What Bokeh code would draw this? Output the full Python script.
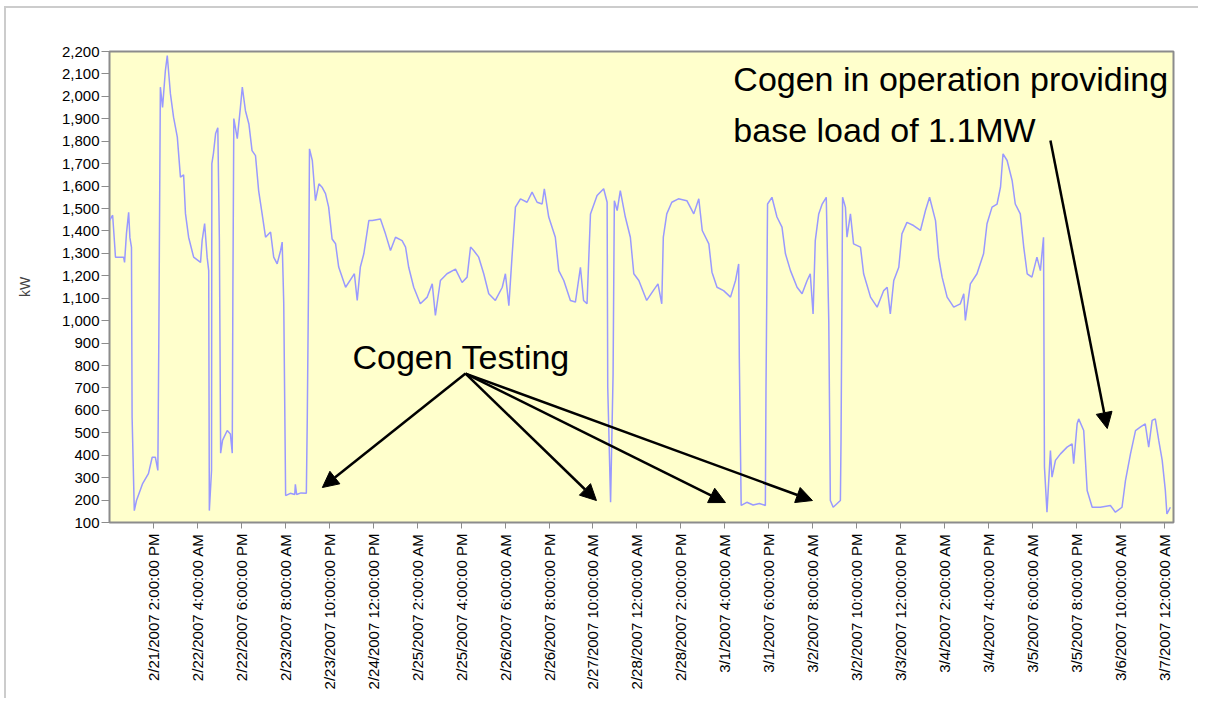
import math
import pandas as pd
from bokeh.plotting import figure
from bokeh.models import (FixedTicker, NumeralTickFormatter, Range1d, Label,
                          Arrow, NormalHead)
from bokeh.embed import file_html
from bokeh.resources import INLINE

# ---------------- data ----------------
start_time = "2/21/2007 12:00:00 AM"

# hours after start_time
hours = [0.0, 1.0, 1.7, 1.9, 4.5, 4.8, 5.4, 6.1, 6.5, 7.0, 7.2, 7.9, 8.6, 10.5,
         12.4, 13.6, 14.6, 15.4, 15.7, 16.2, 16.9, 17.8, 18.4, 19.4, 20.4, 21.6,
         22.6, 23.6, 24.2, 25.2, 26.8, 29.0, 29.5, 30.3, 31.1, 31.6, 31.8, 32.5,
         32.6, 33.1, 33.8, 34.5, 35.0, 35.4, 36.0, 37.5, 38.5, 39.1, 39.3, 39.6,
         40.7, 41.7, 42.3, 43.3, 44.4, 45.4, 46.5, 47.5, 48.6, 49.7, 51.3, 52.3,
         53.4, 54.5, 55.0, 55.5, 56.1, 57.6, 59.0, 59.2, 59.6, 61.0, 62.7, 63.0,
         63.5, 63.7, 64.6, 65.6, 66.7, 67.7, 68.8, 69.8, 70.9, 72.0, 73.0, 75.2,
         77.3, 78.0, 78.9, 79.9, 81.0, 82.6, 83.7, 86.3, 87.9, 89.5, 91.1, 93.2,
         94.3, 95.3, 96.9, 99.0, 101.2, 102.8, 103.8, 105.4, 107.5, 110.2, 112.3,
         113.9, 115.0, 116.0, 117.6, 119.2, 120.8, 122.9, 125.1, 126.1, 127.2,
         128.2, 129.3, 130.9, 133.0, 134.6, 136.2, 137.8, 138.5, 139.9, 142.0,
         143.1, 144.7, 146.8, 148.4, 150.0, 151.0, 152.1, 153.2, 155.3, 157.4,
         158.5, 158.7, 159.6, 160.4, 160.8, 161.7, 162.7, 164.3, 165.9, 167.0,
         168.6, 171.1, 173.2, 174.7, 175.9, 176.4, 177.5, 179.1, 181.2, 183.9,
         186.1, 187.7, 188.8, 190.9, 191.9, 193.5, 195.6, 197.8, 199.4, 200.4,
         200.6, 201.2, 203.0, 205.0, 207.0, 208.9, 209.1, 209.6, 211.0, 212.6,
         214.2, 215.3, 216.9, 219.0, 220.6, 222.2, 223.2, 224.1, 224.8, 225.9,
         227.0, 228.3, 229.1, 229.6, 230.5, 232.8, 233.0, 233.5, 234.4, 234.9,
         236.0, 237.0, 239.2, 240.2, 242.4, 244.5, 246.6, 247.7, 248.7, 249.8,
         251.4, 252.4, 254.0, 256.1, 258.3, 259.9, 261.2, 263.1, 264.1, 265.2,
         266.8, 268.9, 271.0, 272.1, 272.6, 274.2, 276.3, 278.4, 279.5, 281.1,
         282.7, 283.8, 284.6, 285.9, 287.5, 288.5, 290.1, 291.2, 292.3, 293.8,
         295.4, 296.5, 297.5, 297.8, 298.6, 299.7, 300.2, 301.3, 302.9, 305.0,
         306.6, 307.1, 308.2, 308.7, 310.3, 311.4, 313.0, 315.6, 318.8, 320.4,
         322.5, 323.6, 325.2, 326.8, 328.3, 329.9, 331.0, 332.1, 333.1, 334.2,
         335.3, 336.3, 336.8, 337.9]

kw = [1446, 1470, 1327, 1283, 1283, 1260, 1388, 1483, 1370, 1327, 569, 153, 198, 272,
      318, 391, 391, 332, 898, 2041, 1951, 2115, 2182, 2012, 1907, 1818,
      1640, 1650, 1477, 1372, 1283, 1260, 1357, 1433, 1283, 1223, 153, 332,
      1700, 1745, 1834, 1860, 1357, 409, 466, 510, 495, 409, 1134, 1901,
      1811, 1951, 2041, 1936, 1877, 1758, 1736, 1580, 1477, 1372, 1395, 1283,
      1253, 1313, 1350, 1076, 220, 230, 225, 270, 225, 232, 230, 569,
      1320, 1766, 1714, 1535, 1610, 1595, 1566, 1506, 1364, 1343, 1239, 1149,
      1194, 1209, 1090, 1239, 1298, 1446, 1446, 1453, 1387, 1313, 1372, 1357,
      1328, 1238, 1149, 1075, 1105, 1164, 1023, 1179, 1209, 1230, 1170,
      1194, 1328, 1313, 1283, 1209, 1120, 1090, 1149, 1209, 1067,
      1283, 1506, 1543, 1528, 1573, 1528, 1520, 1588, 1462, 1372,
      1223, 1179, 1090, 1083, 1238, 1090, 1075, 1476, 1558, 1588,
      1528, 703, 190, 762, 1535, 1491, 1580, 1462, 1372, 1209,
      1179, 1090, 1134, 1164, 1075, 1372, 1476, 1528, 1543, 1535,
      1476, 1543, 1402, 1342, 1216, 1149, 1134, 1105, 1179, 1253,
      837, 176, 190, 178, 185, 176, 688, 1520, 1550, 1462,
      1417, 1298, 1223, 1149, 1120, 1179, 1209, 1030, 1357, 1476,
      1520, 1550, 997, 198, 168, 198, 466, 1550, 1506, 1372,
      1476, 1342, 1328, 1209, 1105, 1060, 1134, 1149, 1030, 1179,
      1238, 1387, 1438, 1424, 1402, 1491, 1550, 1446, 1283, 1194,
      1105, 1060, 1075, 1120, 1001, 1164, 1209, 1298, 1432, 1506,
      1520, 1595, 1744, 1714, 1625, 1520, 1476, 1328, 1209, 1194,
      1283, 1223, 1372, 347, 146, 421, 302, 377, 406, 436,
      451, 362, 540, 562, 510, 243, 168, 168, 176, 146,
      168, 287, 406, 510, 525, 540, 436, 555, 562, 466,
      377, 243, 138, 168]

tick_labels = ["2/21/2007 2:00:00 PM", "2/22/2007 4:00:00 AM", "2/22/2007 6:00:00 PM",
               "2/23/2007 8:00:00 AM", "2/23/2007 10:00:00 PM", "2/24/2007 12:00:00 PM",
               "2/25/2007 2:00:00 AM", "2/25/2007 4:00:00 PM", "2/26/2007 6:00:00 AM",
               "2/26/2007 8:00:00 PM", "2/27/2007 10:00:00 AM", "2/28/2007 12:00:00 AM",
               "2/28/2007 2:00:00 PM", "3/1/2007 4:00:00 AM", "3/1/2007 6:00:00 PM",
               "3/2/2007 8:00:00 AM", "3/2/2007 10:00:00 PM", "3/3/2007 12:00:00 PM",
               "3/4/2007 2:00:00 AM", "3/4/2007 4:00:00 PM", "3/5/2007 6:00:00 AM",
               "3/5/2007 8:00:00 PM", "3/6/2007 10:00:00 AM", "3/7/2007 12:00:00 AM"]

y_ticks = list(range(100, 2201, 100))

# ---------------- chart ----------------
FMT = "%m/%d/%Y %I:%M:%S %p"
t0 = pd.to_datetime(start_time, format=FMT)
tick_hours = [int(round((pd.to_datetime(s, format=FMT) - t0) / pd.Timedelta(hours=1)))
              for s in tick_labels]

FONT = "Liberation Sans"

p = figure(width=1194, height=692, output_backend="svg", toolbar_location=None,
           x_range=Range1d(0, 338.9), y_range=Range1d(100, 2200),
           min_border_left=103, min_border_top=43, min_border_right=27,
           min_border_bottom=178,
           styles={"border-top": "2px solid #cccccc",
                   "border-left": "2px solid #cccccc",
                   "margin-left": "4px", "margin-top": "6px"})

p.background_fill_color = "#ffffcc"
p.border_fill_color = "white"
p.outline_line_color = "#8c8c8c"
p.outline_line_width = 2
p.grid.visible = False

p.line(hours, kw, line_color="#9999ff", line_width=1.5)

# y axis
ya = p.yaxis[0]
ya.ticker = FixedTicker(ticks=y_ticks)
ya.formatter = NumeralTickFormatter(format="0,0")
ya.minor_tick_line_color = None
ya.major_tick_out = 8
ya.major_tick_in = 0
ya.major_label_standoff = 2
ya.axis_line_color = "#8c8c8c"
ya.major_tick_line_color = "#8c8c8c"
ya.major_label_text_font = FONT
ya.major_label_text_font_size = "15px"
ya.major_label_text_color = "black"
ya.axis_label = "kW"
ya.axis_label_text_font = FONT
ya.axis_label_text_font_size = "14px"
ya.axis_label_text_font_style = "normal"
ya.axis_label_standoff = 26

# x axis
xa = p.xaxis[0]
xa.ticker = FixedTicker(ticks=tick_hours)
xa.major_label_overrides = {h: s for h, s in zip(tick_hours, tick_labels)}
xa.major_label_orientation = math.pi / 2
xa.minor_tick_line_color = None
xa.major_tick_out = 6
xa.major_tick_in = 0
xa.major_label_standoff = 5
xa.axis_line_color = "#8c8c8c"
xa.major_tick_line_color = "#8c8c8c"
xa.major_label_text_font = FONT
xa.major_label_text_font_size = "15px"
xa.major_label_text_color = "black"

# annotations
def lab(x, y, text):
    p.add_layout(Label(x=x, y=y, text=text, text_font=FONT, text_font_size="34px",
                       text_color="black", text_baseline="middle", text_align="left"))

lab(77.4, 840, "Cogen Testing")
lab(198.7, 2079, "Cogen in operation providing")
lab(198.7, 1848, "base load of 1.1MW")

def arrow(xs, ys, xe, ye):
    p.add_layout(Arrow(end=NormalHead(size=16, fill_color="black", line_color="black"),
                       x_start=xs, y_start=ys, x_end=xe, y_end=ye,
                       line_color="black", line_width=2.5))

arrow(113.4, 764, 67.8, 256)
arrow(113.4, 764, 155.1, 198)
arrow(113.4, 764, 196.2, 189)
arrow(113.4, 764, 223.9, 198)
arrow(299.7, 1803, 317.8, 519)

open("out.html", "w").write(file_html(p, INLINE))
